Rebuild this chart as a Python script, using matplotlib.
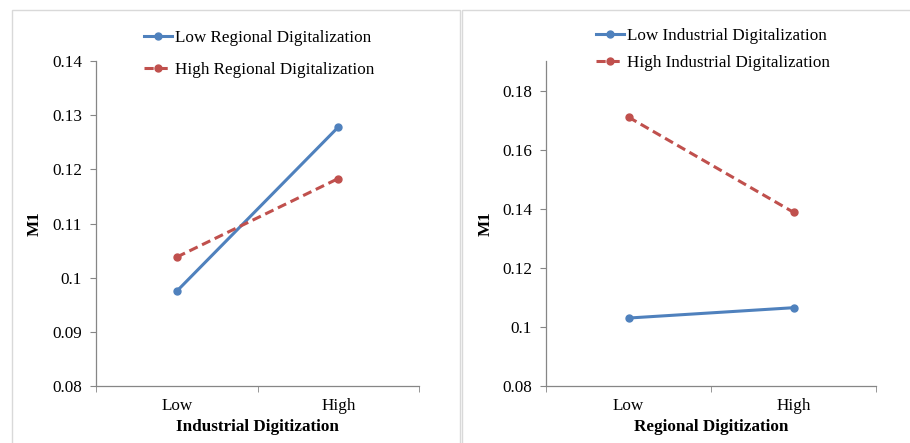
import matplotlib
matplotlib.use('Agg')
import matplotlib.pyplot as plt
from matplotlib.patches import Rectangle
from matplotlib.ticker import FuncFormatter, FixedLocator

plt.rcParams['font.family'] = ['Liberation Serif', 'DejaVu Serif']

# data
categories = ['Low', 'High']

left_low_regional = [0.0975, 0.1278]
left_high_regional = [0.1038, 0.1183]
left_labels = ['Low Regional Digitalization', 'High Regional Digitalization']

right_low_industrial = [0.1030, 0.1065]
right_high_industrial = [0.1710, 0.1388]
right_labels = ['Low Industrial Digitalization', 'High Industrial Digitalization']

blue = '#4f81bd'
red = '#c0504d'
grey = '#868686'
fs = 12.3

W, H = 910, 443
fig = plt.figure(figsize=(W / 100, H / 100), dpi=100)

# panel frames
fig.patches.append(Rectangle((12 / W, 1 - 460 / H), 448 / W, 450 / H, transform=fig.transFigure,
                             fill=False, edgecolor='#d9d9d9', lw=1))
fig.patches.append(Rectangle((462 / W, 1 - 460 / H), 460 / W, 450 / H, transform=fig.transFigure,
                             fill=False, edgecolor='#d9d9d9', lw=1))


def setup(ax, ymin, ymax, ticks, xlabel):
    ax.set_xlim(-0.5, 1.5)
    ax.set_ylim(ymin, ymax)
    for s in ['top', 'right']:
        ax.spines[s].set_visible(False)
    for s in ['left', 'bottom']:
        ax.spines[s].set_color(grey)
        ax.spines[s].set_linewidth(0.9)
    ax.spines['left'].set_bounds(ymin, ymax)
    ax.yaxis.set_major_locator(FixedLocator(ticks))
    ax.yaxis.set_major_formatter(FuncFormatter(lambda v, p: '%g' % round(v, 4)))
    ax.set_xticks([0, 1])
    ax.set_xticklabels(categories)
    ax.set_xticks([-0.5, 0.5, 1.5], minor=True)
    ax.tick_params(axis='x', which='major', length=0, pad=9, labelsize=fs)
    ax.tick_params(axis='x', which='minor', length=4, color=grey, direction='out')
    ax.tick_params(axis='y', length=4, color=grey, direction='out', labelsize=fs, pad=6)
    ax.set_ylabel('M1', fontweight='bold', fontsize=fs)
    ax.set_xlabel(xlabel, fontweight='bold', fontsize=fs, labelpad=3)


ax1 = fig.add_axes([96 / W, 1 - 386 / H, 323 / W, 325 / H])
ax1.plot([0, 1], left_low_regional, color=blue, lw=2.2, marker='o', ms=5, label=left_labels[0])
ax1.plot([0, 1], left_high_regional, color=red, lw=2.2, marker='o', ms=5, dashes=(3, 1.6),
         label=left_labels[1])
setup(ax1, 0.08, 0.14, [0.08, 0.09, 0.10, 0.11, 0.12, 0.13, 0.14], 'Industrial Digitization')
ax1.yaxis.set_label_coords(-0.165, 0.5)
ax1.legend(loc='upper left', bbox_to_anchor=(144 / W, 1 - 30 / H), bbox_transform=fig.transFigure,
           frameon=False, fontsize=fs, handlelength=1.65, handletextpad=0.15, labelspacing=0.95,
           borderpad=0, borderaxespad=0)

ax2 = fig.add_axes([546 / W, 1 - 386 / H, 330 / W, 325 / H])
ax2.plot([0, 1], right_low_industrial, color=blue, lw=2.2, marker='o', ms=5, label=right_labels[0])
ax2.plot([0, 1], right_high_industrial, color=red, lw=2.2, marker='o', ms=5, dashes=(3, 1.6),
         label=right_labels[1])
setup(ax2, 0.08, 0.19, [0.08, 0.10, 0.12, 0.14, 0.16, 0.18], 'Regional Digitization')
ax2.yaxis.set_label_coords(-0.16, 0.5)
ax2.legend(loc='upper left', bbox_to_anchor=(596 / W, 1 - 28 / H), bbox_transform=fig.transFigure,
           frameon=False, fontsize=fs, handlelength=1.65, handletextpad=0.15, labelspacing=0.65,
           borderpad=0, borderaxespad=0)

fig.savefig('out.png', dpi=100)
